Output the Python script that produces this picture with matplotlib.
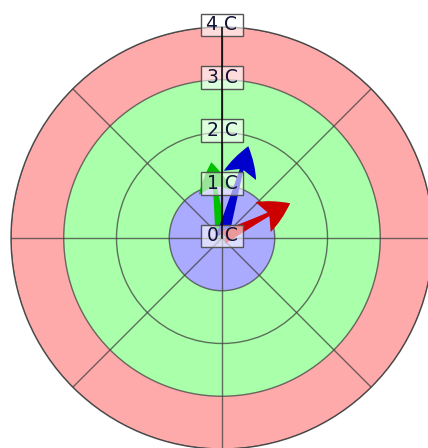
import numpy as np
import matplotlib
matplotlib.use("Agg")
import matplotlib.pyplot as plt
from matplotlib.path import Path

# Temperature bands (radial extent, in C) and their fill colours
band_edges = [0, 1, 3, 4]
band_colors = ["#aaaaff", "#aaffaa", "#ffaaaa"]

# Radial tick values and their labels
r_ticks = [0, 1, 2, 3, 4]
r_labels = ["0 C", "1 C", "2 C", "3 C", "4 C"]

# Vectors: direction (degrees, clockwise from north) and magnitude (C)
vec_names = ["green", "blue", "red"]
vec_dirs = [352, 16, 63]
vec_mags = [1.45, 1.81, 1.45]
vec_colors = ["#00c000", "#0000cc", "#cc0000"]


def label_box(x0, y0, width, height, mutation_size):
    """Rectangular label box with more room left/right than top/bottom."""
    px, py = 0.3 * mutation_size, 0.1 * mutation_size
    x0, y0 = x0 - px, y0 - py
    x1, y1 = x0 + width + 2 * px, y0 + height + 2 * py
    return Path([(x0, y0), (x1, y0), (x1, y1), (x0, y1), (x0, y0)],
                closed=True)


fig = plt.figure(figsize=(4.28, 4.48), dpi=100)
ax = fig.add_axes([11 / 428, -1 / 448, 422 / 428, 422 / 448], projection="polar")
ax.set_theta_zero_location("N")
ax.set_theta_direction(-1)
ax.set_ylim(0, band_edges[-1])

# Coloured bands
for lo, hi, c in zip(band_edges[:-1], band_edges[1:], band_colors):
    ax.bar(0, hi - lo, width=2 * np.pi, bottom=lo, color=c, edgecolor="none",
           align="center", zorder=1)

# Grid: circles every 1 C, spokes every 45 degrees
ax.set_rgrids([1, 2, 3, 4], labels=[""] * 4)
ax.set_thetagrids(np.arange(0, 360, 45), labels=[""] * 8)
ax.grid(True, color="#404040", lw=1.0, alpha=0.75, zorder=2)
ax.set_axisbelow(False)
for gl in ax.get_xgridlines() + ax.get_ygridlines():
    gl.set_zorder(2)
ax.spines["polar"].set_color("#505050")
ax.spines["polar"].set_linewidth(1.0)
ax.tick_params(length=0)

# Vector arrows from the centre
for d, m, c in zip(vec_dirs, vec_mags, vec_colors):
    ax.annotate("", xy=(np.deg2rad(d), m), xytext=(0, 0),
                arrowprops=dict(arrowstyle="fancy,head_length=0.95,head_width=1.05,tail_width=0.42",
                                color=c, shrinkA=0, shrinkB=0, mutation_scale=23,
                                lw=0),
                zorder=3)

# Radial tick labels along the north spoke
for r, lab in zip(r_ticks, r_labels):
    ax.annotate(lab, xy=(0, r), xytext=(0, 1.5), textcoords="offset points",
                ha="center", va="center", fontsize=13.5, color="#111133",
                bbox=dict(boxstyle=label_box, fc=(1, 1, 1, 0.6),
                          ec="#555555", lw=1.0),
                zorder=4)

# Radial axis line on the north spoke
ax.plot([0, 0], [0, band_edges[-1]], color="black", lw=1.1, zorder=5)

fig.savefig("out.png", dpi=100)
